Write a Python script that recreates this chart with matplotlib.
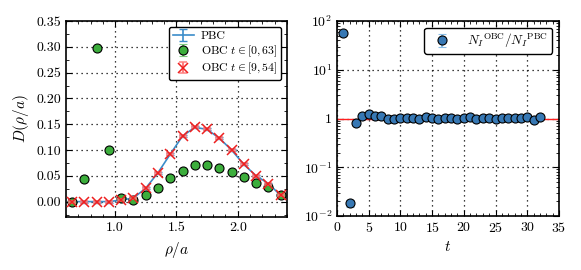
import numpy as np
import matplotlib
matplotlib.use("Agg")
import matplotlib.pyplot as plt
from matplotlib.ticker import MultipleLocator, FixedLocator, FuncFormatter, LogLocator

plt.rcParams['font.family'] = ['cmr10', 'DejaVu Serif']
plt.rcParams['mathtext.fontset'] = 'cm'
plt.rcParams['axes.formatter.use_mathtext'] = True
plt.rcParams['font.size'] = 10
plt.rcParams['xtick.direction'] = 'in'
plt.rcParams['ytick.direction'] = 'in'
plt.rcParams['xtick.top'] = True
plt.rcParams['ytick.right'] = True

# left panel: D(rho/a)
rho = [0.65, 0.75, 0.85, 0.95, 1.05, 1.15, 1.25, 1.35, 1.45,
       1.55, 1.65, 1.75, 1.85, 1.95, 2.05, 2.15, 2.25, 2.35]
d_pbc = [0.0, 0.0, 0.0, 0.0, 0.003, 0.007, 0.026, 0.056, 0.092,
         0.127, 0.144, 0.140, 0.123, 0.100, 0.072, 0.050, 0.035, 0.012]
d_obc_full = [0.0, 0.043, 0.297, 0.100, 0.0065, 0.003, 0.013, 0.027, 0.045,
              0.060, 0.070, 0.070, 0.065, 0.057, 0.048, 0.037, 0.028, 0.012]
d_obc_cut = [0.0, 0.0, 0.0, 0.0, 0.003, 0.007, 0.026, 0.056, 0.092,
             0.127, 0.144, 0.140, 0.123, 0.100, 0.072, 0.050, 0.035, 0.012]
err_small = [0.002] * len(rho)

# right panel: N_I ratio
t = list(range(1, 33))
ratio = [56, 0.0185, 0.80, 1.12, 1.23, 1.14, 1.12, 1.0, 1.0, 1.01, 1.01, 1.01,
         0.97, 1.06, 1.02, 0.97, 1.03, 1.02, 1.0, 1.01, 1.05, 1.0, 1.01, 1.02,
         1.0, 1.02, 1.03, 1.02, 1.01, 1.1, 0.95, 1.05]
ratio_err = [0.0] + [0.003] + [0.03] * 30

fig = plt.figure(figsize=(5.81, 2.70), dpi=100)
ax1 = fig.add_axes([0.1136, 0.196, 0.380, 0.726])
ax2 = fig.add_axes([0.580, 0.200, 0.382, 0.722])

grid_ls = (0, (1, 3))

ax1.errorbar(rho, d_pbc, yerr=err_small, color='#3b8cc9', lw=1.2,
             capsize=3, label='PBC', zorder=2)
ax1.errorbar(rho, d_obc_full, yerr=err_small, fmt='o', ms=6.5,
             mfc='#3cae3c', mec='k', mew=0.8, ecolor='#7fcc7f',
             capsize=3, label=r'OBC $t\in[0,63]$', zorder=3)
ax1.errorbar(rho, d_obc_cut, yerr=err_small, fmt='x', ms=7,
             color='#ee2020', mew=1.1, ecolor='#ff8080',
             capsize=3, label=r'OBC $t\in[9,54]$', zorder=4)

ax1.set_xlim(0.6, 2.4)
ax1.set_ylim(-0.03, 0.35)
ax1.xaxis.set_major_locator(FixedLocator([1.0, 1.5, 2.0]))
ax1.xaxis.set_minor_locator(MultipleLocator(0.1))
ax1.yaxis.set_major_locator(MultipleLocator(0.05))
ax1.yaxis.set_minor_locator(MultipleLocator(0.025))
ax1.xaxis.set_major_formatter(FuncFormatter(lambda v, p: '%.1f' % v))
ax1.yaxis.set_major_formatter(FuncFormatter(lambda v, p: '%.2f' % v))
ax1.grid(True, color='k', ls=grid_ls, lw=0.9)
ax1.set_xlabel(r'$\rho/a$', fontsize=11)
ax1.set_ylabel(r'$D(\rho/a)$', fontsize=11)
leg1 = ax1.legend(loc='upper right', fancybox=True, framealpha=1,
                  edgecolor='k', handlelength=1.8, borderpad=0.3,
                  labelspacing=0.2, handletextpad=0.6, fontsize=8.5)
leg1.get_frame().set_linewidth(1.0)

ax2.errorbar(t, ratio, yerr=ratio_err, fmt='o', ms=6.5,
             mfc='#3778b4', mec='k', mew=0.8, ecolor='#8cc0e8',
             capsize=3, label=r'$N_I{}^{\rm OBC}/N_I{}^{\rm PBC}$', zorder=3)
ax2.axhline(1.0, color='#ff2020', lw=1.0, zorder=2)
ax2.set_yscale('log')
ax2.set_xlim(0, 35)
ax2.set_ylim(1e-2, 1e2)
ax2.xaxis.set_major_locator(MultipleLocator(5))
ax2.xaxis.set_minor_locator(MultipleLocator(1))
ax2.yaxis.set_major_locator(LogLocator(base=10, numticks=10))
ax2.yaxis.set_minor_locator(LogLocator(base=10, subs=np.arange(2, 10), numticks=10))


def log_label(v, p):
    e = int(round(np.log10(v)))
    if e == 0:
        return '1'
    return r'$10^{%d}$' % e


ax2.yaxis.set_major_formatter(FuncFormatter(log_label))
ax2.grid(True, which='major', color='k', ls=grid_ls, lw=0.9)
ax2.set_xlabel(r'$t$', fontsize=11)
leg2 = ax2.legend(loc='upper right', fancybox=True, framealpha=1,
                  edgecolor='k', handlelength=2.2, borderpad=0.3,
                  handletextpad=0.8, fontsize=9.5)
leg2.get_frame().set_linewidth(1.0)

for ax in (ax1, ax2):
    for s in ax.spines.values():
        s.set_linewidth(1.2)
    ax.tick_params(which='major', length=4, width=0.8)
    ax.tick_params(which='minor', length=2, width=0.6)

fig.savefig('out.png', dpi=100)
